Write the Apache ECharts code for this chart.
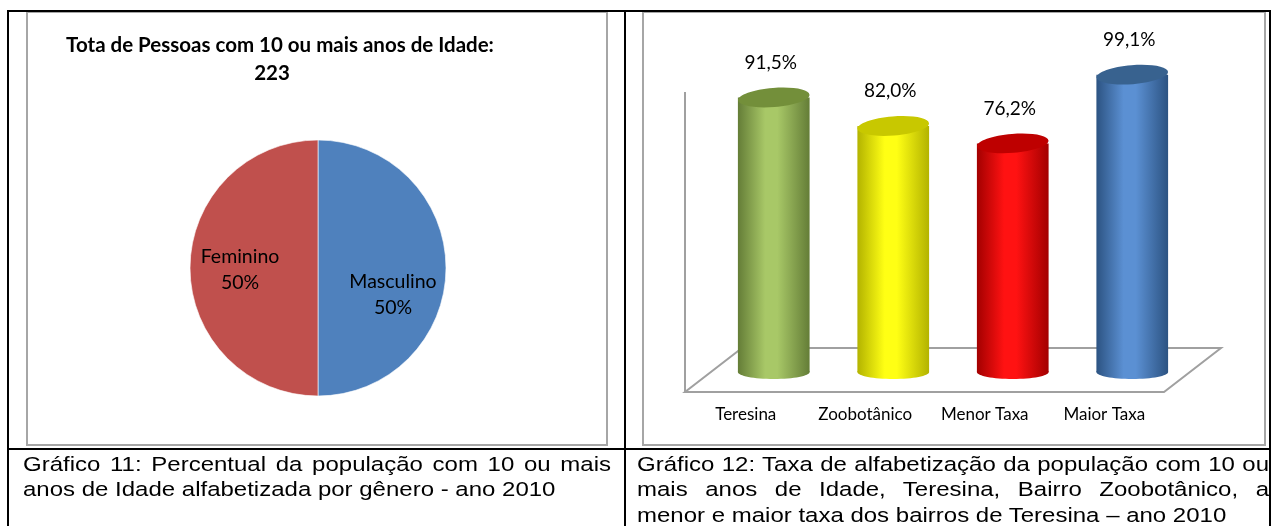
<!DOCTYPE html>
<html>
<head>
<meta charset="utf-8">
<script src="https://cdn.jsdelivr.net/npm/echarts@6/dist/echarts.min.js"></script>
<style>
html, body { margin: 0; padding: 0; background: #fff; overflow: hidden; }
#chart { position: absolute; left: 0; top: 0; width: 1271px; height: 526px; }
.cap { position: absolute; font-family: "Liberation Sans", Arial, sans-serif; font-size: 24px; line-height: 28.4px; color: #000; transform: scale(1, 0.88); transform-origin: 0 0; white-space: nowrap; }
.cap div { text-align: left; }
.cap .j { text-align: justify; text-align-last: justify; white-space: normal; }
</style>
</head>
<body>
<div id="chart"></div>
<div class="cap" id="cap11" style="left:23px; top:452px; width:588px;"></div>
<div class="cap" id="cap12" style="left:637px; top:452px; width:632px;"></div>
<script>
// pie: gender split
const pieNames = ["Masculino", "Feminino"];
const pieValues = [50, 50];
const pieColors = ["#4F81BD", "#C0504D"];
const pieTitle = ["Tota de Pessoas com 10 ou mais anos de Idade:", "223"];

// cylinders: literacy rate
const barCategories = ["Teresina", "Zoobotânico", "Menor Taxa", "Maior Taxa"];
const barValues = [91.5, 82.0, 76.2, 99.1];

const caption11 = [
  "Gráfico 11: Percentual da população com 10 ou mais",
  "anos de Idade alfabetizada por gênero - ano 2010"
];
const caption12 = [
  "Gráfico 12: Taxa de alfabetização da população com 10 ou",
  "mais anos de Idade, Teresina, Bairro Zoobotânico, a",
  "menor e maior taxa dos bairros de Teresina – ano 2010"
];

const cylColors = [
  { dark: "#647D37", light: "#A8C867", top: "#738F3A" },
  { dark: "#B3B300", light: "#FFFF14", top: "#C8C800" },
  { dark: "#A30000", light: "#FF1212", top: "#BE0000" },
  { dark: "#2C5382", light: "#5B90D3", top: "#38628F" }
];
const pieLabelShift = [[8, 27], [-11, 2]];
const chartFont = "Lato, 'Open Sans', sans-serif";

const fillCaption = (id, lines, justifiedCount) => {
  const box = document.getElementById(id);
  lines.forEach((t, i) => {
    const d = document.createElement("div");
    if (i < justifiedCount) d.className = "j";
    d.textContent = t;
    box.appendChild(d);
  });
};
fillCaption("cap11", caption11, 1);
fillCaption("cap12", caption12, 2);

const bodyFill = (c) => new echarts.graphic.LinearGradient(0, 0, 1, 0, [
  { offset: 0, color: c.dark },
  { offset: 0.38, color: c.light },
  { offset: 0.55, color: c.light },
  { offset: 1, color: c.dark }
]);
const fmtPct = (v) => v.toFixed(1).replace(".", ",") + "%";

const chart = echarts.init(document.getElementById("chart"));
const gray = { stroke: "#A6A6A6", lineWidth: 2, fill: "none" };
const black = { stroke: "#000", lineWidth: 2 };

chart.setOption({
  animation: false,
  title: [
    { text: pieTitle[0], left: 280, top: 35, textAlign: "center", padding: 0,
      textStyle: { fontFamily: chartFont, fontSize: 20.5, fontWeight: "bold", color: "#000" } },
    { text: pieTitle[1], left: 272, top: 63, textAlign: "center", padding: 0,
      textStyle: { fontFamily: chartFont, fontSize: 20.5, fontWeight: "bold", color: "#000" } }
  ],
  graphic: [
    { type: "rect", shape: { x: 27, y: 12, width: 580, height: 433 }, style: gray, silent: true },
    { type: "rect", shape: { x: 643, y: 12, width: 622, height: 433 }, style: gray, silent: true },
    { type: "line", shape: { x1: 7, y1: 11, x2: 1271, y2: 11 }, style: black, silent: true },
    { type: "line", shape: { x1: 8, y1: 11, x2: 8, y2: 526 }, style: black, silent: true },
    { type: "line", shape: { x1: 625, y1: 11, x2: 625, y2: 526 }, style: black, silent: true },
    { type: "line", shape: { x1: 1270, y1: 11, x2: 1270, y2: 526 }, style: black, silent: true },
    { type: "line", shape: { x1: 8, y1: 449, x2: 1271, y2: 449 }, style: black, silent: true }
  ],
  grid: { left: 714, top: 72, width: 478, height: 300 },
  xAxis: {
    type: "category",
    data: barCategories,
    axisLine: { show: false },
    axisTick: { show: false },
    axisLabel: { interval: 0, margin: 34, padding: [0, 56, 0, 0], fontFamily: chartFont, fontSize: 17, color: "#000" }
  },
  yAxis: { type: "value", min: 0, max: 100, show: false },
  series: [
    {
      type: "pie",
      center: [318, 268],
      radius: 128,
      startAngle: 90,
      clockwise: true,
      silent: true,
      data: pieNames.map((n, i) => ({ name: n, value: pieValues[i], itemStyle: { color: pieColors[i] } })),
      itemStyle: { borderColor: "rgba(255,255,255,0.6)", borderWidth: 1 },
      label: {
        position: "inside",
        formatter: "{b}\n{d}%",
        fontFamily: chartFont,
        fontSize: 19.5,
        lineHeight: 26,
        color: "#000"
      },
      labelLayout: (p) => ({ dx: pieLabelShift[p.dataIndex][0], dy: pieLabelShift[p.dataIndex][1] })
    },
    {
      // floor and side edge of the 3D box
      type: "custom",
      coordinateSystem: "cartesian2d",
      silent: true,
      z: 1,
      data: [[0, 0]],
      renderItem: (params) => {
        const cs = params.coordSys;
        const L = cs.x, R = cs.x + cs.width, T = cs.y, B = cs.y + cs.height;
        const fl = [L - 29, B + 20], fr = [R - 28, B + 20], br = [R + 29, B - 24], bl = [L + 28, B - 24];
        const st = { stroke: "#A0A0A0", lineWidth: 2, fill: "none" };
        return {
          type: "group",
          children: [
            { type: "polygon", shape: { points: [fl, fr, br, bl] }, style: st },
            { type: "line", shape: { x1: fl[0], y1: fl[1], x2: fl[0], y2: T + 20 }, style: st }
          ]
        };
      }
    },
    {
      type: "custom",
      coordinateSystem: "cartesian2d",
      silent: true,
      z: 3,
      data: barValues.map((v, i) => [i, v]),
      encode: { x: 0, y: 1 },
      renderItem: (params, api) => {
        const i = params.dataIndex;
        const v = api.value(1);
        const top = api.coord([api.value(0), v]);
        const base = api.coord([api.value(0), 0]);
        const w = api.size([1, 0])[0] * 0.6;
        const rx = w / 2;
        const c = cylColors[i];
        return {
          type: "group",
          children: [
            { type: "ellipse", shape: { cx: base[0], cy: base[1], rx: rx, ry: 7 }, style: { fill: bodyFill(c) } },
            { type: "rect", shape: { x: base[0] - rx, y: top[1], width: w, height: base[1] - top[1] }, style: { fill: bodyFill(c) } },
            { type: "ellipse", shape: { cx: top[0], cy: top[1], rx: rx, ry: 9.5 }, rotation: 0.08, originX: top[0], originY: top[1],
              style: { fill: c.top } },
            { type: "text", x: top[0] - 3, y: top[1] - 35,
              style: { text: fmtPct(v), align: "center", verticalAlign: "middle", font: "19px " + chartFont, fill: "#000" } }
          ]
        };
      }
    }
  ]
});
</script>
</body>
</html>
